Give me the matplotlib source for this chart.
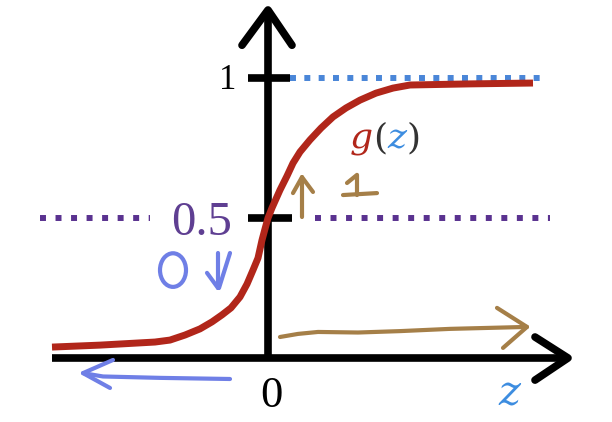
import matplotlib.pyplot as plt
from matplotlib.patches import Ellipse

# sigmoid g(z), points
z_pts = [-4.32, -3.36, -2.26, -1.96, -1.66, -1.36, -1.12, -0.92, -0.74,
         -0.56, -0.42, -0.30, -0.20, -0.12, -0.06, 0.0, 0.08, 0.16, 0.24,
         0.38, 0.50, 0.64, 0.84, 1.06, 1.30, 1.56, 1.84, 2.16, 2.50, 2.84,
         3.44, 4.04, 5.30]
g_pts = [0.039, 0.046, 0.057, 0.064, 0.082, 0.104, 0.129, 0.154, 0.179,
         0.218, 0.264, 0.314, 0.357, 0.421, 0.461, 0.500, 0.536, 0.568, 0.600,
         0.650, 0.696, 0.736, 0.779, 0.821, 0.861, 0.893, 0.921, 0.946, 0.964,
         0.975, 0.977, 0.979, 0.982]

# levels marked on the vertical axis
one_level = 1.0
half_level = 0.5
tick_labels = ["1", "0.5"]
x_label = "0"

# hand-written notes: little "up" arrow and "1" above 0.5
up_arrow_stem = ([0.68, 0.68], [0.504, 0.646])
up_arrow_head = ([0.50, 0.68, 0.90], [0.589, 0.646, 0.593])
one_mark = ([1.58, 1.78, 1.78], [0.625, 0.654, 0.582])
one_base = ([1.50, 2.18], [0.582, 0.589])
# "0" with a down arrow below 0.5
zero_center = (-1.90, 0.314)
down_stem = ([-1.0, -1.0], [0.375, 0.25])
down_right = ([-0.76, -0.98], [0.375, 0.25])
down_left = ([-1.22, -1.0], [0.304, 0.25])
# long arrows under/over the z axis
right_arrow_z = [0.24, 0.60, 1.00, 1.80, 2.64, 3.64, 5.18]
right_arrow_g = [0.075, 0.086, 0.093, 0.091, 0.096, 0.104, 0.111]
right_head = ([4.58, 5.18, 4.70], [0.179, 0.111, 0.036])
left_arrow_z = [-0.76, -2.16, -3.30, -3.70]
left_arrow_g = [-0.075, -0.071, -0.066, -0.054]
left_head = ([-3.10, -3.70, -3.16], [-0.007, -0.054, -0.107])

red = "#b1261a"
purple = "#5a3290"
blue_dot = "#4a86d8"
brown = "#a57f48"
pen_blue = "#6f7fe6"

fig = plt.figure(figsize=(6.12, 4.22), dpi=100)
ax = fig.add_axes([0, 0, 1, 1])
ax.set_xlim(-5.36, 6.88)
ax.set_ylim(-0.2286, 1.2786)
ax.axis("off")

# dotted guide lines
ax.plot([0.44, 5.44], [one_level, one_level], color=blue_dot, lw=4.3,
        ls=(0, (1, 1.4)), dash_capstyle="butt")
ax.plot([0.94, 5.64], [half_level, half_level], color=purple, lw=4.3,
        ls=(0, (1, 1.6)), dash_capstyle="butt")
ax.plot([-4.56, -2.36], [half_level, half_level], color=purple, lw=4.3,
        ls=(0, (1, 1.6)), dash_capstyle="butt")

# axes with open arrow heads
k = dict(color="black", lw=5.5, solid_capstyle="butt", solid_joinstyle="miter")
ax.plot([-4.32, 5.95], [0, 0], **k)
ax.plot([5.34, 6.0, 5.34], [0.075, 0, -0.079], color="black", lw=5.5,
        solid_capstyle="round", solid_joinstyle="round")
ax.plot([0, 0], [-0.012, 1.23], **k)
ax.plot([-0.52, 0, 0.48], [1.117, 1.243, 1.117], color="black", lw=5.5,
        solid_capstyle="round", solid_joinstyle="round")
ax.plot([-0.40, 0.44], [one_level, one_level], **k)
ax.plot([-0.40, 0.48], [half_level, half_level], **k)

# the curve
ax.plot(z_pts, g_pts, color=red, lw=5, solid_capstyle="butt",
        solid_joinstyle="round", zorder=5)

# labels
ax.text(-0.80, 0.961, tick_labels[0], family="Liberation Serif", fontsize=25,
        ha="center", va="baseline")
ax.text(-1.32, 0.439, tick_labels[1], family="Liberation Serif", fontsize=35,
        color="#5f3f92", ha="center", va="baseline")
ax.text(0.06, -0.175, x_label, family="Liberation Serif", fontsize=32,
        ha="center", va="baseline")
ax.text(4.82, -0.168, "z", family="DejaVu Serif", style="italic", fontsize=30,
        color="#3d8de0", ha="center", va="baseline")

t = ax.text(1.64, 0.75, "g", family="DejaVu Serif", style="italic",
            fontsize=26, color=red, va="baseline")
t = ax.annotate("(", xy=(1, 0), xycoords=t, family="DejaVu Serif",
                fontsize=26, color="#333333", va="bottom")
t = ax.annotate("z", xy=(1, 0), xycoords=t, family="DejaVu Serif",
                style="italic", fontsize=26, color="#3d8de0", va="bottom")
ax.annotate(")", xy=(1, 0), xycoords=t, family="DejaVu Serif",
            fontsize=26, color="#333333", va="bottom")

# pen annotations
pen = dict(lw=3, solid_capstyle="round", solid_joinstyle="round")
ax.plot(*up_arrow_stem, color=brown, **pen)
ax.plot(*up_arrow_head, color=brown, **pen)
ax.plot(*one_mark, color=brown, **pen)
ax.plot(*one_base, color=brown, **pen)
ax.plot(right_arrow_z, right_arrow_g, color=brown, **pen)
ax.plot(*right_head, color=brown, **pen)

ax.add_patch(Ellipse(zero_center, 0.52, 0.12, angle=0, fill=False,
                     edgecolor=pen_blue, lw=3))
ax.plot(*down_stem, color=pen_blue, **pen)
ax.plot(*down_right, color=pen_blue, **pen)
ax.plot(*down_left, color=pen_blue, **pen)
ax.plot(left_arrow_z, left_arrow_g, color=pen_blue, **pen)
ax.plot(*left_head, color=pen_blue, **pen)

fig.savefig("out.png", dpi=100)
